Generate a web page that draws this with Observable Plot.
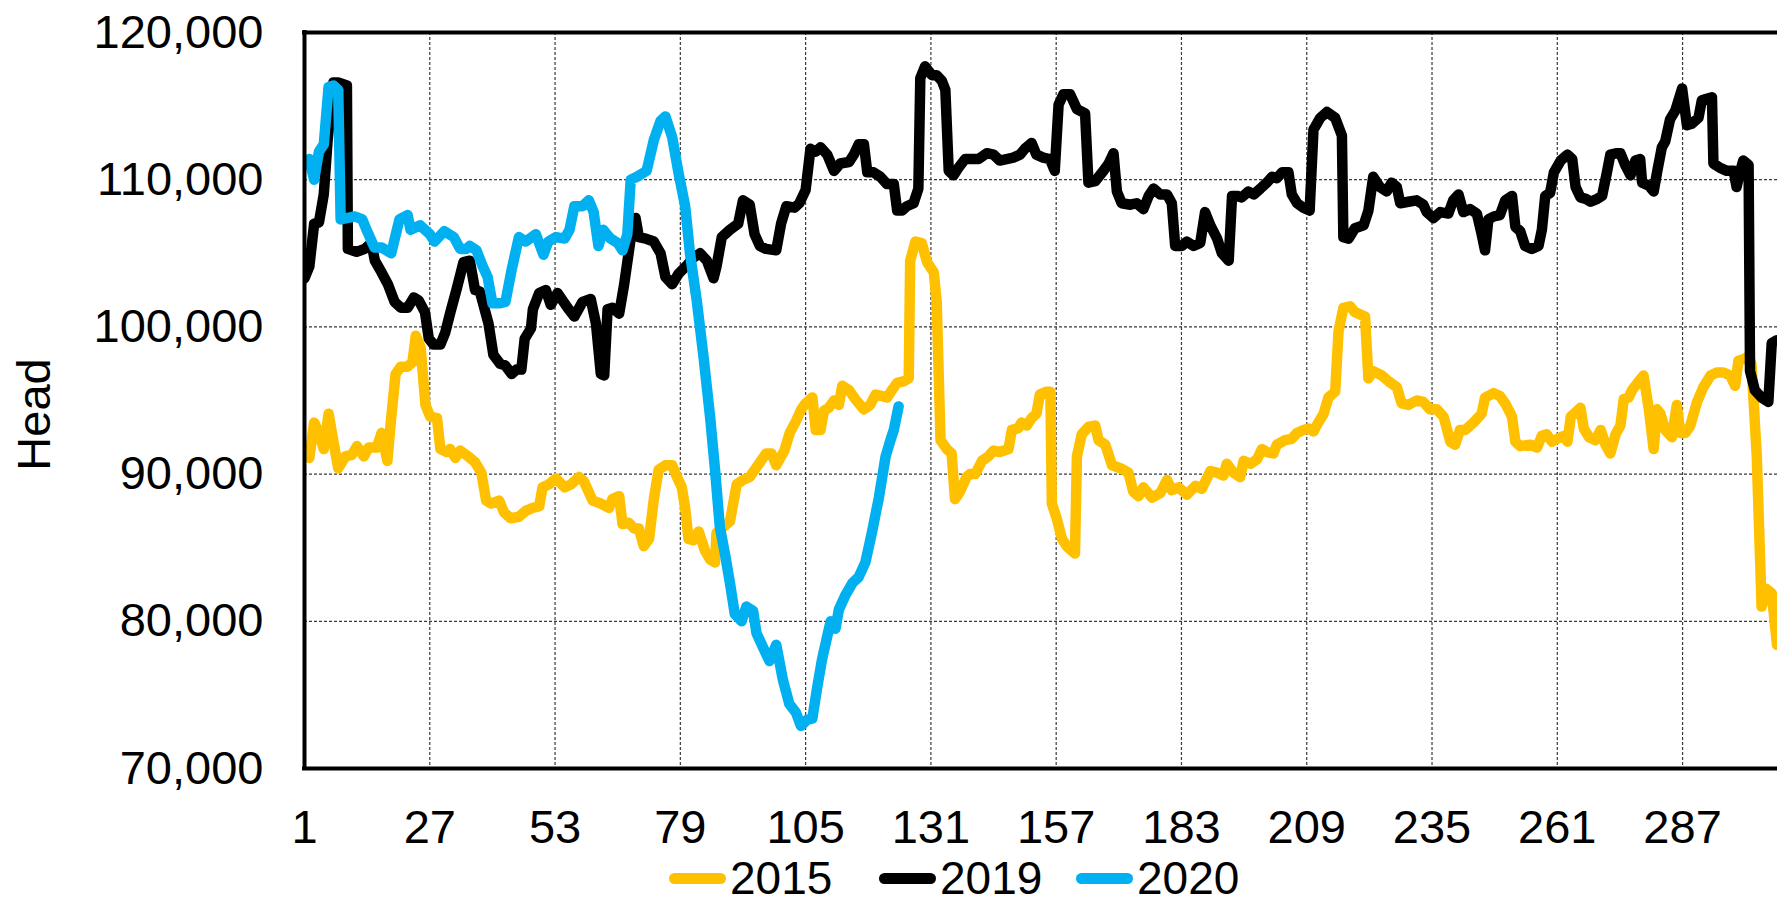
<!DOCTYPE html>
<html><head><meta charset="utf-8">
<script src="https://cdn.jsdelivr.net/npm/d3@7"></script>
<script src="https://cdn.jsdelivr.net/npm/@observablehq/plot@0.6"></script>
<style>
html,body{margin:0;padding:0;background:#fff;overflow:hidden;}
#wrap{position:relative;width:1777px;height:905px;overflow:hidden;font-family:Arial,"Liberation Sans",sans-serif;color:#000;}
#chart svg{overflow:hidden;display:block;}
.item{position:absolute;top:852px;display:flex;align-items:center;font-size:46px;line-height:52px;height:52px;white-space:nowrap;}
.sw{width:57px;height:11px;border-radius:5.5px;margin-right:4px;}
</style></head><body>
<div id="wrap"><div id="chart"></div><div id="legend"></div></div>
<script>
const seriesNames = ["2015", "2019", "2020"];
const seriesColors = ["#FFC000", "#000000", "#00B0F0"];
const xTicks = [1, 27, 53, 79, 105, 131, 157, 183, 209, 235, 261, 287];
const yTicks = [70000, 80000, 90000, 100000, 110000, 120000];
const yLabel = "Head";

const days2015 = [1,2,3,4,5,6,7,8,9.5,10.8,11.9,13.3,14.3,16,17,18.2,18.9,19.9,21,22.4,23.4,24.1,25.1,26.1,27.1,28.5,29.2,30.5,31.2,32.3,33.3,35,36.4,37.7,38.7,39.7,41.4,42.4,43.8,45.5,46.9,48.3,49.7,50.4,51.7,53.2,55,56.3,58,59,60.8,62.5,64.2,64.9,66.3,67,68.3,69.4,70.4,71.4,72.5,73.5,74.5,75.9,77.3,78.3,79.3,80,80.7,81.7,82.8,84.1,85.2,86.2,86.5,87.9,89.3,90.7,92,93.4,95.1,96.8,97.9,98.9,100.6,101.7,103,104.1,105,106.4,107.1,108.1,108.8,109.8,110.9,111.9,112.6,114,115.3,117.1,118.4,119.5,120.9,121.9,122.9,124,125.3,126.4,126.7,127.8,129.1,130.2,131.6,132.2,133,134.3,135.3,136,137,138.4,139.1,140.2,141.6,142.9,144,145.3,147.1,147.8,149.1,149.8,150.9,151.9,152.9,153.6,155,155.8,156.1,157.1,158.2,159.2,160.9,161.3,162.3,163.7,165.1,165.8,167.2,168.6,170.3,172,173,174.1,175.1,176.9,178.6,180,181,182.4,184.1,185.9,187.2,189,190.4,191.7,192.4,193.8,195.2,195.9,197.3,198.7,199.7,200.7,202.1,202.8,204.5,205.9,207,208.3,209.4,210.4,211.4,212.5,213.5,214.9,215.6,216.6,218,219,221.1,221.8,222.8,224.6,226,227.7,228.7,230.1,231.8,233.2,234.6,236,237.4,238.8,239.8,240.8,241.9,243.6,245.3,246,247.8,249.1,250.2,251.6,252.3,253.3,255.4,256.8,257.8,258.8,259.9,261,262.4,263.1,263.8,264.8,265.8,266.5,267.6,268.9,270,271,272,273.1,274.1,274.8,275.8,276.5,277.9,278.9,280,281,281.7,282.4,283.4,284.8,285.8,286.5,287.6,288.6,290,291.3,292.8,294.1,295.5,296.9,297.9,298.6,299.6,300.7,301.3,302.4,303.4,304.4,305.5,306.6];
const head2015 = [91400,91100,93500,92800,91700,94100,92200,90400,91200,91300,91900,91200,91800,91800,92800,90900,93500,96800,97300,97300,97600,99400,98600,94700,93900,93800,91700,91500,91700,91100,91600,91200,90800,90100,88200,88000,88200,87400,87000,87100,87500,87700,87800,89100,89300,89700,89100,89300,89800,89500,88200,88000,87700,88300,88500,86600,86700,86300,86300,85100,85600,88300,90300,90600,90600,89800,89100,87700,85600,85500,86100,84800,84200,84000,86000,86400,86800,89300,89600,89800,90600,91400,91400,90600,91600,92800,93600,94400,94800,95200,93000,93000,94300,94500,95000,94700,96000,95700,95100,94400,94700,95400,95300,95200,95700,96200,96300,96500,104500,105800,105700,104400,103700,101700,92300,91700,91400,88300,88800,89800,90000,90000,90900,91200,91600,91500,91700,93000,93100,93500,93300,93800,94100,95400,95600,95600,88000,87000,85600,85100,84600,91200,92700,93200,93300,92300,92000,90600,90400,90100,88800,88500,89100,88400,88700,89600,88900,89100,88600,89200,89000,90200,90100,89900,90700,90100,89800,90900,90700,91000,91700,91500,91400,92000,92300,92400,92800,93000,93100,92900,93500,94100,95200,95600,99700,101300,101400,101000,100700,96500,97000,96700,96300,95900,94800,94700,95000,94900,94400,94400,93900,92200,92000,93000,93000,93500,94100,95200,95500,95300,94800,93900,92200,91900,92000,91800,92600,92700,92200,92400,92600,92200,93900,94200,94500,93100,92500,92300,93000,92000,91400,92700,93300,95100,95200,95700,96300,96700,94400,91700,94400,94100,93000,92500,94700,92800,92800,93300,94900,95900,96700,96900,96900,96700,96000,97700,97800,98000,97500,91200,81000,82200,81900,78400];

const days2019 = [1,2,3,4,5,5.8,7,8,9.8,10,11.8,13.5,14.9,15.6,17,18.3,19.7,21,22.4,23.7,24.7,26,26.8,27.8,29.2,30.2,31.2,32.6,34,35.3,36.4,37.4,39.2,40.2,41.6,42.6,44,45,46,46.7,48,48.4,49.7,51.1,52.1,53.5,55.6,57,58.7,60.4,61.5,62.5,63.2,63.9,64.9,66.3,67.3,68.7,69.7,70.4,71.8,73.5,74.9,75.9,77.3,78.6,80.4,81.7,83.1,84.5,85.9,86.5,87.6,89.3,91,92,93.4,94.4,95.5,96.8,98.9,99.9,101,102.7,103.7,105,106,107.1,108.1,109.5,110.9,112.2,114,115,116,117.1,117.8,119.1,120.5,121.9,123.3,124,125,126,127.4,128.4,128.8,129.8,131.2,132.2,133.3,134,134.7,135.7,136.7,138.1,139.5,140.9,142.6,144,145.3,146.7,148.1,149.5,150.5,151.9,152.9,154.3,155.7,156.7,157.5,158.5,159.9,161.3,163,163.7,165.1,166.8,167.9,168.9,169.6,170.6,172.4,173.7,175.1,176.2,177.2,178.6,180,181,181.7,183.1,184.1,185.5,186.9,187.9,189,190.4,191.4,192.8,193.5,194.5,195.5,196.9,198,199.4,200.7,201.8,202.8,203.9,205.2,205.9,207,208.3,209.6,210.4,211.8,213.2,214.9,216.3,216.6,217.7,219,220.8,221.8,222.8,224.2,225.6,226.6,227.7,228.4,230.1,231.8,233.2,233.9,235.3,236.7,238.4,239.4,240.5,241.5,242.9,244.3,245.3,246,246.7,247.8,249.1,250.2,251.6,252.3,253.3,254.3,255.7,257.1,257.8,258.5,259.5,260.3,261.7,263.1,264.1,264.8,265.8,266.9,267.9,269.3,270.3,271.3,272,273.4,274.1,275.1,276.2,277.2,278.2,278.6,280,281,281.7,282.7,283.4,284.4,285.5,286.9,287.9,288.9,290.3,291,292,293.1,293.4,294.8,296.2,297.6,298.2,298.9,299.6,300.7,301,302,303.4,304.8,305.5,306.6];
const head2019 = [103300,104100,107000,107100,109000,112700,116600,116600,116400,105300,105100,105300,105700,104500,103700,102900,101700,101300,101300,102000,101800,101000,99200,98800,98800,99600,100900,102600,104400,104500,102500,102400,100200,98100,97500,97400,96800,97100,97100,99200,99900,101200,102300,102500,101500,102300,101300,100700,101700,101900,100200,96800,96700,101200,101300,100900,102800,106000,107400,106100,106000,105800,105000,103400,102900,103600,104200,104700,105000,104500,103300,104100,106100,106600,107000,108600,108300,106300,105500,105300,105200,107000,108200,108100,108400,109300,112100,111900,112200,111700,110600,111100,111200,111700,112400,112400,110500,110500,110200,109700,109700,107900,107900,108200,108400,109400,116900,117700,117100,117100,116700,116100,110600,110300,110800,111400,111400,111400,111800,111700,111300,111400,111500,111700,112100,112500,111700,111500,111400,110600,115100,115800,115800,114800,114500,109800,109900,110600,111100,111800,109200,108400,108300,108400,108000,108900,109400,109000,109000,108400,105500,105500,105800,105500,105700,107800,106900,106000,105000,104500,108900,108900,108800,109200,109000,109400,109800,110200,110100,110500,110500,109000,108400,108100,107900,113400,114200,114600,114200,113000,106100,106000,106700,106900,107900,110200,109500,109200,109800,109500,108400,108500,108600,108300,107800,107400,107800,107700,108600,109000,107800,108000,107700,106300,105200,107300,107500,107600,108600,108900,106800,106500,105500,105300,105500,106600,108900,109100,110500,111300,111700,111400,109500,108800,108700,108500,108700,108900,110500,111700,111800,111800,111000,110300,111300,111400,109800,109600,109200,110500,112200,112600,114100,114700,116200,113700,113800,114200,115400,115500,115600,111100,110800,110600,110600,109500,110500,111300,111000,97000,95700,95200,94900,98900,99100];

const days2020 = [1,2,3,4,5,6,7,8,8.5,10,11.5,13,14,15.5,17,19,20.7,22.4,23,25,27,28,30,32,33.3,34.6,35.3,36.7,38,39,40,41.4,42.7,44,45.5,46.9,49,50.6,51.6,53.2,55,56,57,58.7,60,61,62,63,64.5,66,67,68,68.7,70,72,73.5,74.9,75.9,77.3,78.6,80,81,82.4,83.8,85.2,86.2,87.2,88.3,89.3,90.3,91.7,92.7,94.1,94.8,96.2,97.5,98.9,100.3,101.6,103,104,105.3,106.4,107.4,108.4,109.5,110.2,111.2,111.9,113.3,114.7,116,117.4,118.8,120.2,121.6,122.6,123.3,124.3];
const head2020 = [111000,111400,110000,111900,112400,116300,116400,116100,107300,107400,107500,107300,106500,105400,105400,105000,107300,107600,106600,106900,106300,105800,106500,106100,105300,105300,105500,105200,104100,103400,101600,101600,101700,103900,106100,105800,106300,104900,105800,106100,106000,106600,108200,108200,108600,107800,105500,106600,106000,105700,105200,106300,110000,110200,110600,112700,114000,114300,112900,110500,108200,105000,101800,98000,93800,90300,86400,84500,82600,80500,80000,81000,80700,79200,78200,77300,78400,76000,74400,73800,72900,73300,73400,75500,77400,79000,80000,79500,80800,81800,82600,83000,84000,86100,88400,91200,92300,93000,94600];

const seriesDays = [days2015, days2019, days2020];
const seriesHeads = [head2015, head2019, head2020];
const rows = seriesNames.flatMap((name, i) =>
  seriesDays[i].map((d, j) => ({year: name, day: d, head: seriesHeads[i][j]})));

const font = 'Arial, "Liberation Sans", sans-serif';
const gridStyle = {stroke: "#3a3a3a", strokeOpacity: 1, strokeWidth: 1.2, strokeDasharray: "3,2"};

const plot = Plot.plot({
  width: 1777,
  height: 852,
  marginLeft: 304,
  marginRight: 0,
  marginTop: 32,
  marginBottom: 84,
  style: {fontFamily: font, fontSize: "47px", color: "#000", background: "#fff", overflow: "hidden"},
  x: {domain: [1, 306.7]},
  y: {domain: [yTicks[0], yTicks[yTicks.length - 1]]},
  color: {domain: seriesNames, range: seriesColors},
  marks: [
    Plot.gridX(xTicks.slice(1), gridStyle),
    Plot.gridY(yTicks.slice(1, -1), gridStyle),
    Plot.line(rows, {x: "day", y: "head", z: "year", stroke: "year", strokeWidth: 10.5,
      strokeLinejoin: "round", strokeLinecap: "round", clip: true}),
    Plot.ruleY([yTicks[0], yTicks[yTicks.length - 1]], {stroke: "#000", strokeWidth: 4, strokeLinecap: "square"}),
    Plot.ruleX([xTicks[0]], {stroke: "#000", strokeWidth: 4, strokeLinecap: "square"}),
    Plot.axisX(xTicks, {tickSize: 0, tickPadding: 41, fontSize: 47, label: null}),
    Plot.axisY(yTicks, {tickSize: 0, tickPadding: 41, fontSize: 47, label: null, tickFormat: d3.format(",")}),
    Plot.text([yLabel], {text: d => d, frameAnchor: "left", textAnchor: "middle", rotate: -90, dx: -270, dy: 14, fontSize: 47, fill: "#000"})
  ]
});
document.getElementById("chart").appendChild(plot);

const legend = document.getElementById("legend");
const legendLeft = [669, 879, 1076];
seriesNames.forEach((name, i) => {
  const item = document.createElement("div");
  item.className = "item";
  item.style.left = legendLeft[i] + "px";
  const sw = document.createElement("span");
  sw.className = "sw";
  sw.style.background = seriesColors[i];
  const label = document.createElement("span");
  label.textContent = name;
  item.appendChild(sw);
  item.appendChild(label);
  legend.appendChild(item);
});
</script>
</body></html>
